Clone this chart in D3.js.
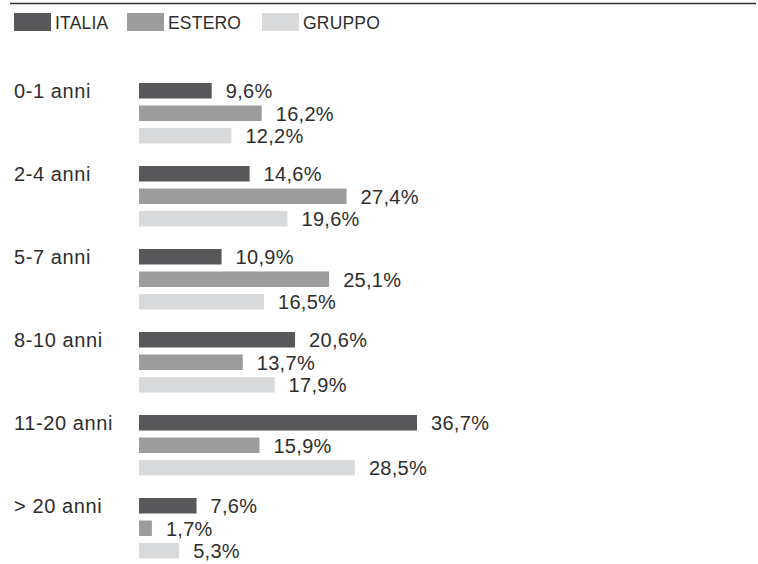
<!DOCTYPE html>
<html>
<head>
<meta charset="utf-8">
<script src="https://cdn.jsdelivr.net/npm/d3@7"></script>
<style>
  html, body { margin: 0; padding: 0; background: #fff; }
  svg { display: block; }
  text { font-family: "Liberation Sans", Arial, Helvetica, sans-serif; fill: #2e2e2e; }
</style>
</head>
<body>
<svg id="chart" width="758" height="564"></svg>
<script>
// Anzianità di servizio per area geografica
const categories = ["0-1 anni", "2-4 anni", "5-7 anni", "8-10 anni", "11-20 anni", "> 20 anni"];
const seriesNames = ["ITALIA", "ESTERO", "GRUPPO"];
const italia = [9.6, 14.6, 10.9, 20.6, 36.7, 7.6];
const estero = [16.2, 27.4, 25.1, 13.7, 15.9, 1.7];
const gruppo = [12.2, 19.6, 16.5, 17.9, 28.5, 5.3];
const colors = ["#58585a", "#9c9c9d", "#d9dadb"];

const values = [italia, estero, gruppo];
const rows = [];
categories.forEach((c, i) => {
  seriesNames.forEach((s, j) => rows.push({ cat: c, series: s, value: values[j][i], color: colors[j] }));
});

const svg = d3.select("#chart");
const fmt = v => d3.format(".1f")(v).replace(".", ",") + "%";

// top rule
svg.append("line")
  .attr("x1", 10).attr("x2", 756)
  .attr("y1", 3.5).attr("y2", 3.5)
  .attr("stroke", "#333").attr("stroke-width", 1.3);

// legend
const legendX = d3.scaleOrdinal().domain(seriesNames).range([14, 127, 262]);
const legend = svg.append("g").selectAll("g").data(seriesNames).join("g")
  .attr("transform", d => `translate(${legendX(d)},13)`);
legend.append("rect")
  .attr("width", 37).attr("height", 18)
  .attr("fill", (d, i) => colors[i]);
legend.append("text")
  .attr("x", 41).attr("y", 16)
  .style("font-size", "17.5px")
  .style("letter-spacing", "0.2px")
  .text(d => d);

// scales
const y = d3.scaleBand().domain(categories).range([83, 83 + 83 * categories.length]);
const ySub = d3.scaleBand().domain(seriesNames).range([0, 60.5]).paddingInner(0.311).paddingOuter(0);
const x = d3.scaleLinear().domain([0, 40]).range([139, 442]);

// category labels
svg.append("g").selectAll("text").data(categories).join("text")
  .attr("x", 14)
  .attr("y", d => y(d) + ySub.bandwidth() - 1)
  .style("font-size", "20px")
  .style("letter-spacing", "0.6px")
  .text(d => d);

// bars
svg.append("g").selectAll("rect").data(rows).join("rect")
  .attr("x", x(0))
  .attr("y", d => y(d.cat) + ySub(d.series))
  .attr("width", d => x(d.value) - x(0))
  .attr("height", ySub.bandwidth())
  .attr("fill", d => d.color);

// value labels
svg.append("g").selectAll("text").data(rows).join("text")
  .attr("x", d => x(d.value) + 14)
  .attr("y", d => y(d.cat) + ySub(d.series) + ySub.bandwidth() - 0.5)
  .style("font-size", "20px")
  .style("letter-spacing", "0.3px")
  .text(d => fmt(d.value));
</script>
</body>
</html>
